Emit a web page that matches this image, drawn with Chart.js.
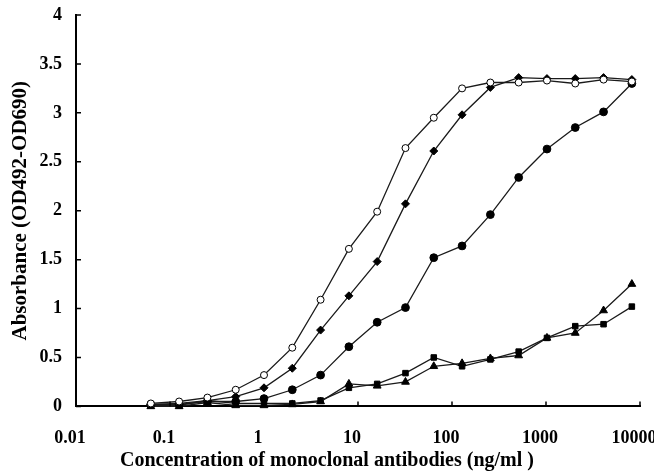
<!DOCTYPE html>
<html>
<head>
<meta charset="utf-8">
<script src="https://cdn.jsdelivr.net/npm/chart.js@4/dist/chart.umd.min.js"></script>
<style>
  html, body { margin: 0; padding: 0; background: #fff; }
  #wrap { width: 654px; height: 476px; position: relative; }
</style>
</head>
<body>
<div id="wrap"><canvas id="c"></canvas></div>
<script>
// --- data ---
const concentrations = [0.0625, 0.125, 0.25, 0.5, 1, 2, 4, 8, 16, 32, 64, 128, 256, 512, 1024, 2048, 4096, 8192];
const openCircles = [0.03, 0.05, 0.09, 0.17, 0.32, 0.60, 1.09, 1.61, 1.99, 2.64, 2.95, 3.25, 3.31, 3.31, 3.33, 3.30, 3.34, 3.32];
const diamonds    = [0.02, 0.03, 0.06, 0.10, 0.19, 0.39, 0.78, 1.13, 1.48, 2.07, 2.61, 2.98, 3.26, 3.36, 3.35, 3.35, 3.36, 3.34];
const filledCircles = [0.02, 0.02, 0.05, 0.05, 0.08, 0.17, 0.32, 0.61, 0.86, 1.01, 1.52, 1.64, 1.96, 2.34, 2.63, 2.85, 3.01, 3.30];
const triangles   = [0.00, 0.00, 0.04, 0.01, 0.01, 0.02, 0.05, 0.23, 0.21, 0.25, 0.41, 0.44, 0.49, 0.52, 0.70, 0.75, 0.98, 1.25];
const squares     = [0.01, 0.01, 0.06, 0.03, 0.03, 0.03, 0.06, 0.19, 0.23, 0.34, 0.50, 0.41, 0.48, 0.56, 0.70, 0.82, 0.84, 1.02];
const xTicks = [0.01, 0.1, 1, 10, 100, 1000, 10000];
const yTicks = [0, 0.5, 1, 1.5, 2, 2.5, 3, 3.5, 4];

const fontFam = '"Liberation Serif", "Times New Roman", serif';

function pts(arr) {
    return arr.map((v, i) => ({ x: concentrations[i], y: v }));
}

function serie(label, arr, style, radius, fill) {
    return {
        label: label,
        data: pts(arr),
        borderColor: '#1a1a1a',
        borderWidth: 1.3,
        pointStyle: style,
        pointRadius: radius,
        pointBackgroundColor: fill,
        pointBorderColor: '#000',
        pointBorderWidth: 1,
        tension: 0,
        clip: false
    };
}

// tanda tick ke arah dalam (seperti gaya Excel)
const innerTicks = {
    id: 'innerTicks',
    afterDraw(chart) {
        const c = chart.ctx;
        const xs = chart.scales.x, ys = chart.scales.y;
        c.save();
        c.strokeStyle = '#000';
        c.lineWidth = 1.5;
        c.beginPath();
        ys.ticks.forEach(t => {
            const p = ys.getPixelForValue(t.value);
            c.moveTo(xs.left, p);
            c.lineTo(xs.left + 5, p);
        });
        xs.ticks.forEach(t => {
            const p = xs.getPixelForValue(t.value);
            c.moveTo(p, ys.bottom);
            c.lineTo(p, ys.bottom - 5);
        });
        c.stroke();
        c.restore();
    }
};

new Chart(document.getElementById('c'), {
    type: 'line',
    data: {
        datasets: [
            serie('open circle', openCircles, 'circle', 3.5, '#fff'),
            serie('diamond', diamonds, 'rectRot', 4, '#000'),
            serie('filled circle', filledCircles, 'circle', 3.9, '#000'),
            serie('triangle', triangles, 'triangle', 4.5, '#000'),
            serie('square', squares, 'rect', 3.9, '#000')
        ]
    },
    options: {
        responsive: true,
        maintainAspectRatio: false,
        animation: false,
        layout: { padding: { top: 0, right: 0, left: 0, bottom: 3 } },
        plugins: {
            legend: { display: false },
            tooltip: { enabled: false },
            title: {
                display: true,
                position: 'bottom',
                text: 'Concentration of monoclonal antibodies (ng/ml )',
                color: '#000',
                font: { family: fontFam, size: 20, weight: 'bold' },
                padding: { top: 0, bottom: 0 }
            }
        },
        scales: {
            x: {
                type: 'logarithmic',
                min: 0.01,
                max: 10000,
                afterBuildTicks: s => { s.ticks = xTicks.map(v => ({ value: v })); },
                afterFit: s => { s.paddingRight = 14; },
                ticks: {
                    color: '#000',
                    font: { family: fontFam, size: 18, weight: 'bold' },
                    padding: 0,
                    labelOffset: -6,
                    maxRotation: 0,
                    autoSkip: false,
                    callback: v => String(v)
                },
                grid: { display: true, drawOnChartArea: false, drawTicks: true, tickLength: 21, tickColor: 'rgba(0,0,0,0)' },
                border: { color: '#000', width: 2 }
            },
            y: {
                min: 0,
                max: 4,
                afterBuildTicks: s => { s.ticks = yTicks.map(v => ({ value: v })); },
                afterFit: s => { s.paddingTop = 15; s.width = 76; },
                ticks: {
                    color: '#000',
                    font: { family: fontFam, size: 18, weight: 'bold' },
                    padding: 14,
                    callback: v => String(v)
                },
                grid: { display: false, drawTicks: false },
                border: { color: '#000', width: 2 },
                title: {
                    display: true,
                    text: 'Absorbance (OD492-OD690)',
                    color: '#000',
                    font: { family: fontFam, size: 21, weight: 'bold' },
                    padding: { top: 8, bottom: 0 }
                }
            }
        }
    },
    plugins: [innerTicks]
});
</script>
</body>
</html>
